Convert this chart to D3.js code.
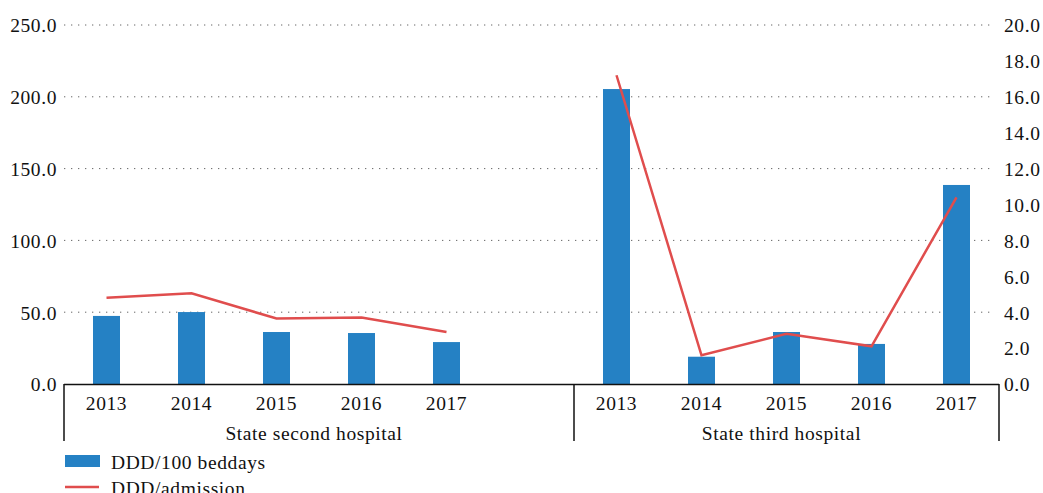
<!DOCTYPE html>
<html><head><meta charset="utf-8">
<script src="https://cdn.jsdelivr.net/npm/d3@7"></script>
<style>
body{margin:0;background:#fff;}
text{font-family:"Liberation Serif","DejaVu Serif",serif;fill:#111;letter-spacing:0.6px;}
</style></head><body>
<svg id="c" width="1043" height="493"></svg>
<script>
const groups = ["State second hospital", "State third hospital"];
const years = ["2013", "2014", "2015", "2016", "2017"];
const bedDays = [[47.4, 50.1, 36.2, 35.5, 29.2], [205.4, 19.0, 36.2, 27.9, 138.6]];
const admission = [[4.8, 5.05, 3.65, 3.7, 2.9], [17.2, 1.6, 2.8, 2.1, 10.4]];
const leftTicks = [0, 50, 100, 150, 200, 250];
const rightTicks = [0, 2, 4, 6, 8, 10, 12, 14, 16, 18, 20];
const legendLabels = ["DDD/100 beddays", "DDD/admission"];

const blue = "#2581c4", red = "#e04d4d";
const FS = 19.5;
const svg = d3.select("#c");
const L = 64, R = 999, T = 25, B = 384;

const keys = [];
years.forEach(y => keys.push("0-" + y));
keys.push("0-gap");
years.forEach(y => keys.push("1-" + y));
const x = d3.scaleBand().domain(keys).range([L, R]).padding(0);
const yL = d3.scaleLinear().domain([0, 250]).range([B, T]);
const yR = d3.scaleLinear().domain([0, 20]).range([B, T]);

// gridlines
svg.append("g").selectAll("line").data(leftTicks.filter(d => d > 0)).join("line")
  .attr("x1", L).attr("x2", R - 8).attr("y1", d => yL(d)).attr("y2", d => yL(d))
  .attr("stroke", "#666").attr("stroke-width", 1).attr("stroke-dasharray", "1.3,5.7");

// bars
const barW = 27;
const barData = [];
groups.forEach((g, gi) => years.forEach((y, yi) => barData.push({k: gi + "-" + y, v: bedDays[gi][yi]})));
svg.append("g").selectAll("rect").data(barData).join("rect")
  .attr("x", d => x(d.k) + x.bandwidth() / 2 - barW / 2)
  .attr("width", barW)
  .attr("y", d => yL(d.v)).attr("height", d => yL(0) - yL(d.v))
  .attr("fill", blue);

// lines
const line = d3.line().x(d => x(d.k) + x.bandwidth() / 2).y(d => yR(d.v));
groups.forEach((g, gi) => {
  const pts = years.map((y, yi) => ({k: gi + "-" + y, v: admission[gi][yi]}));
  svg.append("path").datum(pts).attr("d", line)
    .attr("fill", "none").attr("stroke", red).attr("stroke-width", 2.5).attr("stroke-linejoin", "miter");
});

// axes
const ax = svg.append("g").attr("transform", `translate(${L - 7},0)`)
  .call(d3.axisLeft(yL).tickValues(leftTicks).tickSize(0).tickFormat(d3.format(".1f")));
ax.select(".domain").remove();
ax.selectAll("text").attr("font-size", FS).attr("x", 0).attr("dy", "0.35em")
  .style("font-family", '"Liberation Serif",serif').attr("fill", "#111");

const ar = svg.append("g").attr("transform", `translate(${R + 5},0)`)
  .call(d3.axisRight(yR).tickValues(rightTicks).tickSize(0).tickFormat(d3.format(".1f")));
ar.select(".domain").remove();
ar.selectAll("text").attr("font-size", FS).attr("x", 0).attr("dy", "0.35em")
  .style("font-family", '"Liberation Serif",serif').attr("fill", "#111");

// x axis frame
const fr = svg.append("g").attr("stroke", "#111").attr("stroke-width", 1.5);
fr.append("line").attr("x1", L).attr("x2", R).attr("y1", B + 0.5).attr("y2", B + 0.5);
const seps = [L, x("1-2013"), R];
seps.forEach(s => fr.append("line").attr("x1", s).attr("x2", s).attr("y1", B).attr("y2", 441));

// year labels
svg.append("g").selectAll("text").data(keys.filter(k => !k.endsWith("gap"))).join("text")
  .attr("x", k => x(k) + x.bandwidth() / 2).attr("y", 410)
  .attr("text-anchor", "middle").attr("font-size", FS).text(k => k.split("-")[1]);

// group labels
groups.forEach((g, gi) => {
  const x0 = gi === 0 ? L : x("1-2013");
  const x1 = gi === 0 ? x("1-2013") : R;
  svg.append("text").attr("x", (x0 + x1) / 2 - 5).attr("y", 440)
    .attr("text-anchor", "middle").attr("font-size", FS).text(g);
});

// legend
const lg = svg.append("g");
lg.append("rect").attr("x", 65).attr("y", 455).attr("width", 35).attr("height", 12).attr("fill", blue);
lg.append("text").attr("x", 111).attr("y", 469).attr("font-size", FS).text(legendLabels[0]);
lg.append("line").attr("x1", 65).attr("x2", 99).attr("y1", 487).attr("y2", 487).attr("stroke", red).attr("stroke-width", 2.5);
lg.append("text").attr("x", 111).attr("y", 495).attr("font-size", FS).text(legendLabels[1]);
</script>
</body></html>
